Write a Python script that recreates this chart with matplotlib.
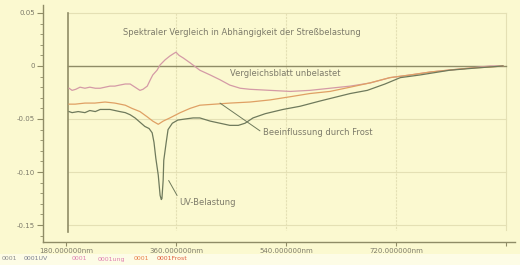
import numpy as np
import matplotlib; matplotlib.use("Agg")
import matplotlib.pyplot as plt
from matplotlib.ticker import MultipleLocator
from matplotlib.patches import Rectangle

# ---------- data ----------
wl_ref = [185, 190, 196, 203, 211, 219, 228, 236, 244, 252, 260, 268, 277, 285, 293, 301, 306,
          313, 318, 322, 329, 334, 342, 350, 357, 360, 365, 372, 383, 399, 416, 432, 448, 465,
          481, 514, 547, 579, 612, 645, 678, 710, 743, 776, 808, 841, 874, 895]
ref = [-0.021, -0.023, -0.022, -0.020, -0.021, -0.020, -0.021, -0.021, -0.020, -0.019, -0.019,
       -0.018, -0.017, -0.017, -0.020, -0.023, -0.022, -0.019, -0.013, -0.0085, -0.004, 0.001,
       0.0057, 0.0094, 0.012, 0.013, 0.010, 0.0075, 0.003, -0.004, -0.0085, -0.013, -0.018,
       -0.021, -0.022, -0.023, -0.024, -0.023, -0.021, -0.019, -0.016, -0.011, -0.0085,
       -0.0057, -0.0038, -0.002, 0.0, 0.0]

wl_frost = [185, 195, 211, 227, 244, 260, 277, 288, 301, 313, 322, 331, 339, 350, 367, 383, 399,
            424, 448, 481, 514, 547, 579, 612, 645, 677, 710, 743, 776, 808, 841, 874, 895]
frost = [-0.036, -0.036, -0.035, -0.035, -0.034, -0.035, -0.037, -0.040, -0.043, -0.048,
         -0.052, -0.055, -0.052, -0.049, -0.044, -0.040, -0.037, -0.036, -0.035, -0.034,
         -0.032, -0.029, -0.026, -0.024, -0.020, -0.016, -0.011, -0.0085, -0.0057, -0.0038,
         -0.002, -0.001, 0.0]

wl_uv = [185, 190, 200, 211, 219, 228, 236, 244, 252, 260, 268, 277, 285, 293, 301, 309, 316,
         321, 324, 327, 331, 334, 336, 337, 339, 340, 344, 347, 354, 363, 375, 388, 399, 416,
         432, 448, 462, 473, 486, 506, 535, 563, 596, 617, 645, 673, 702, 727, 759, 808, 849, 895]
uv = [-0.043, -0.044, -0.043, -0.044, -0.042, -0.043, -0.041, -0.041, -0.041, -0.042, -0.043,
      -0.044, -0.046, -0.049, -0.053, -0.057, -0.059, -0.063, -0.072, -0.087, -0.103, -0.122,
      -0.126, -0.125, -0.108, -0.089, -0.072, -0.060, -0.054, -0.051, -0.050, -0.049, -0.049,
      -0.052, -0.054, -0.056, -0.056, -0.054, -0.049, -0.045, -0.041, -0.038, -0.033, -0.030,
      -0.026, -0.023, -0.017, -0.011, -0.0085, -0.004, -0.002, 0.0]

x_ticks = [180, 360, 540, 720, 900]
x_labels = ["180.000000nm", "360.000000nm", "540.000000nm", "720.000000nm", ""]
y_ticks = [0.05, 0, -0.05, -0.1, -0.15]
y_labels = ["0.05", "0", "-0.05", "-0.10", "-0.15"]

BG = "#fbf9d0"; AX = "#8f8c66"; GRID = "#e4e0b4"; TXT = "#7d7b6a"
C_REF = "#d49aa6"; C_FROST = "#dfa064"; C_UV = "#6f7a5c"

fig = plt.figure(figsize=(5.2, 2.65), dpi=100, facecolor=BG)
ax = fig.add_axes([43/520, 1-242/265, 472/520, 237/265], facecolor=BG)
ax.set_xlim(142.4, 914.7); ax.set_ylim(-0.166, 0.0575)

# grid / frame inside the data area
for y in [0.05, -0.05, -0.1, -0.15]:
    ax.plot([184, 900], [y, y], color=GRID, lw=0.8, zorder=1)
for x in [360, 540, 720]:
    ax.plot([x, x], [0.05, -0.155], color=GRID, lw=0.8, ls=(0, (2, 1)), zorder=1)
ax.plot([900, 900], [0.05, -0.155], color=GRID, lw=0.8, zorder=1)
ax.plot([184, 900], [0, 0], color=AX, lw=1.0, zorder=2)
ax.plot([184, 184], [0.05, -0.157], color=AX, lw=1.2, zorder=2)

ax.plot(wl_ref, ref, color=C_REF, lw=0.9, zorder=3)
ax.plot(wl_frost, frost, color=C_FROST, lw=0.9, zorder=3)
ax.plot(wl_uv, uv, color=C_UV, lw=0.9, zorder=4)

# annotations
ax.text(468, 0.032, "Spektraler Vergleich in Abhängigkeit der Streßbelastung", fontsize=6,
        color=TXT, ha="center", va="center")
ax.text(448, -0.0075, "Vergleichsblatt unbelastet", fontsize=6, color=TXT, va="center")
ax.annotate("Beeinflussung durch Frost", xy=(432, -0.035), xytext=(502, -0.063), fontsize=6,
            color=TXT, va="center",
            arrowprops=dict(arrowstyle="-", color=C_UV, lw=0.7, shrinkA=0, shrinkB=0,
                            relpos=(0, 0.5)))
ax.annotate("UV-Belastung", xy=(348, -0.108), xytext=(366, -0.129), fontsize=6,
            color=TXT, va="center",
            arrowprops=dict(arrowstyle="-", color=C_UV, lw=0.7, shrinkA=0, shrinkB=0,
                            relpos=(0, 0.8)))

# axes styling
for s in ["top", "right"]:
    ax.spines[s].set_visible(False)
for s in ["left", "bottom"]:
    ax.spines[s].set_color(AX); ax.spines[s].set_linewidth(1.0)
ax.set_xticks(x_ticks); ax.set_xticklabels(x_labels)
ax.set_yticks(y_ticks); ax.set_yticklabels(y_labels)
ax.yaxis.set_minor_locator(MultipleLocator(0.01))
ax.tick_params(axis="both", which="major", labelsize=5, colors=AX, labelcolor=TXT,
               length=4, width=0.8, direction="out", pad=2)
ax.tick_params(axis="x", which="major", length=3, pad=1)
ax.tick_params(axis="y", which="minor", colors=AX, length=2, width=0.6)

# little colour legend strip at the bottom
fig.patches.append(Rectangle((0, 0), 1, 11/265, transform=fig.transFigure,
                             facecolor="#fdfce6", edgecolor="none", zorder=0))
legend_bits = [(2, "0001", "#8c8c8c"), (24, "0001UV", "#7c8090"), (72, "0001", "#e080b0"),
               (98, "0001ung", "#e080b0"), (134, "0001", "#e8804a"), (157, "0001Frost", "#e06040")]
for x, t, c in legend_bits:
    fig.text(x/520, 1-259/265, t, fontsize=4.5, color=c, va="center")

plt.savefig("out.png", dpi=100, facecolor=BG)
